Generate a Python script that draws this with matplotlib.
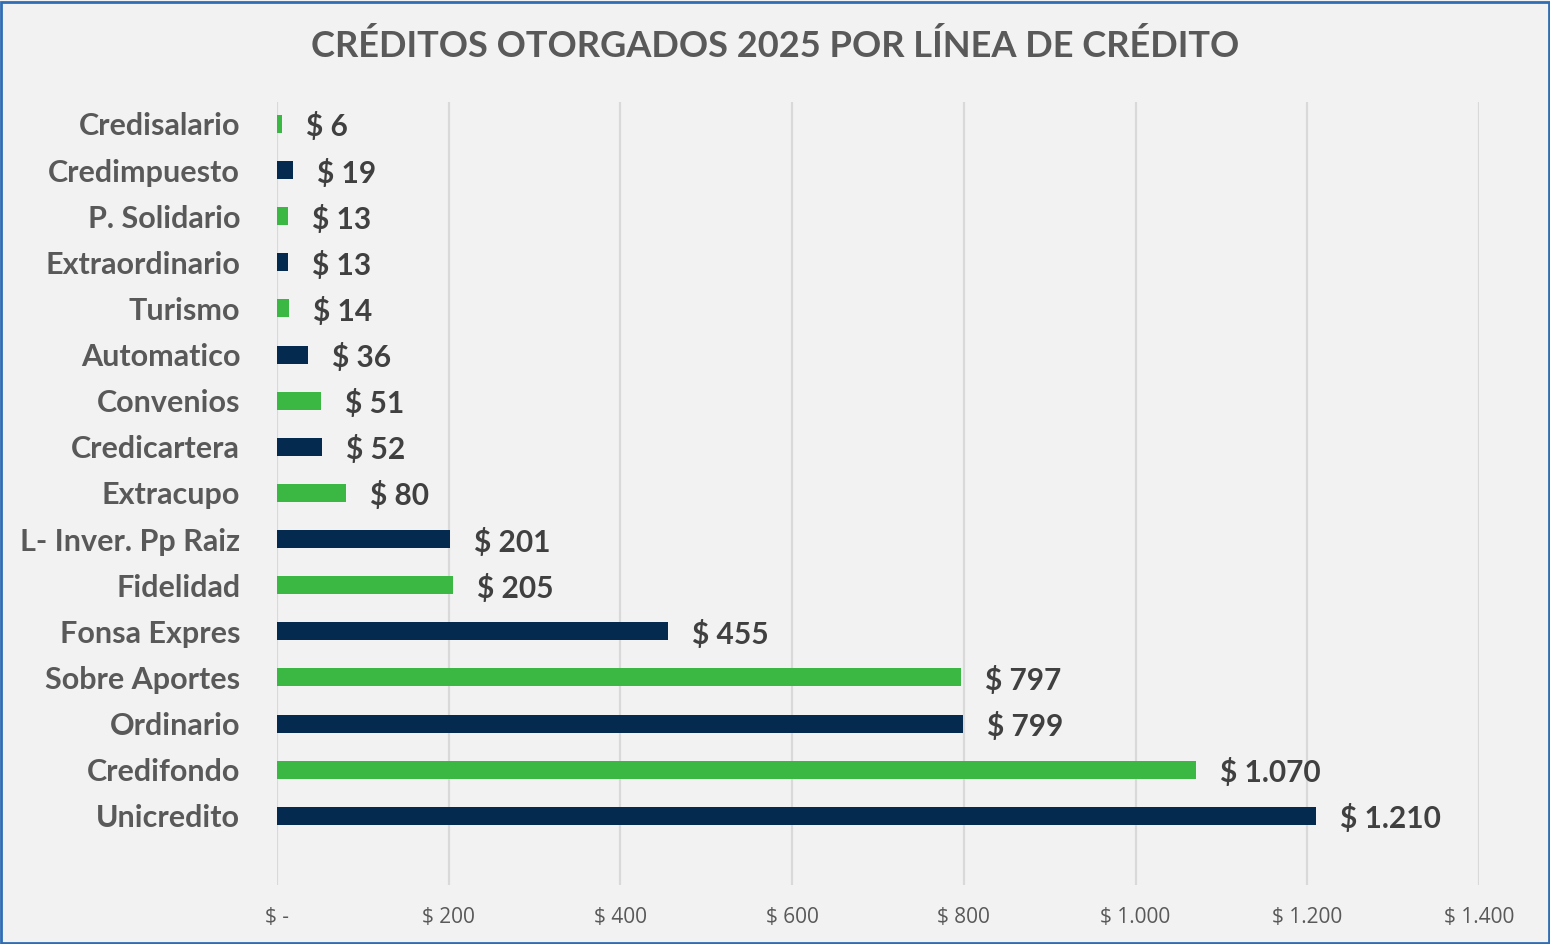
import matplotlib
matplotlib.use("Agg")
import matplotlib.pyplot as plt
from matplotlib.patches import Rectangle
from matplotlib.ticker import FuncFormatter

categories = ["Credisalario", "Credimpuesto", "P. Solidario", "Extraordinario", "Turismo",
              "Automatico", "Convenios", "Credicartera", "Extracupo", "L- Inver. Pp Raiz",
              "Fidelidad", "Fonsa Expres", "Sobre Aportes", "Ordinario", "Credifondo", "Unicredito"]
values = [6, 19, 13, 13, 14, 36, 51, 52, 80, 201, 205, 455, 797, 799, 1070, 1210]
x_ticks = [0, 200, 400, 600, 800, 1000, 1200, 1400]
title = "CRÉDITOS OTORGADOS 2025 POR LÍNEA DE CRÉDITO"

GREEN = "#3BB843"
NAVY = "#052A4F"
BG = "#F2F2F2"
colors = [GREEN if i % 2 == 0 else NAVY for i in range(len(categories))]

def money(v):
    if v == 0:
        return "$ -"
    return "$ " + f"{int(v):,}".replace(",", ".")

W, H = 1550, 944
fig = plt.figure(figsize=(W / 100, H / 100), dpi=100, facecolor=BG)
ax = fig.add_axes([277 / W, 1 - 885 / H, (1479 - 277) / W, (885 - 102) / H])
ax.set_facecolor(BG)

pos = list(range(len(categories)))
ax.barh(pos, values, height=0.39, color=colors, zorder=3)
ax.set_xlim(0, 1400)
ax.set_ylim(16.5, -0.477)

ax.set_xticks(x_ticks)
ax.xaxis.set_major_formatter(FuncFormatter(lambda v, p: money(v)))
ax.grid(axis="x", color="#D9D9D9", linewidth=1.6, zorder=0)
ax.tick_params(axis="x", length=0, pad=16, labelsize=15, labelcolor="#595959")
for lab in ax.get_xticklabels():
    lab.set_family(["Liberation Sans Narrow", "Open Sans", "DejaVu Sans"])

ax.set_yticks(pos)
ax.set_yticklabels(categories, fontsize=22, fontweight="bold", color="#595959", family="Lato")
ax.tick_params(axis="y", length=0, pad=26.5)

for s in ax.spines.values():
    s.set_visible(False)

for p, v in zip(pos, values):
    ax.annotate(money(v), xy=(v, p), xytext=(24, -3), textcoords="offset pixels",
                ha="left", va="center", fontsize=21.5, fontweight="bold", color="#404040", family="Lato")

fig.text(0.5, 1 - 46 / H, title, ha="center", va="center", fontsize=26.1, fontweight="bold",
         color="#595959", family="Lato")

fig.patches.append(Rectangle((0.0008, 0.001), 0.9984, 0.997, transform=fig.transFigure,
                             fill=False, edgecolor="#2F6DB5", linewidth=2))

fig.savefig("out.png", dpi=100, facecolor=BG)
